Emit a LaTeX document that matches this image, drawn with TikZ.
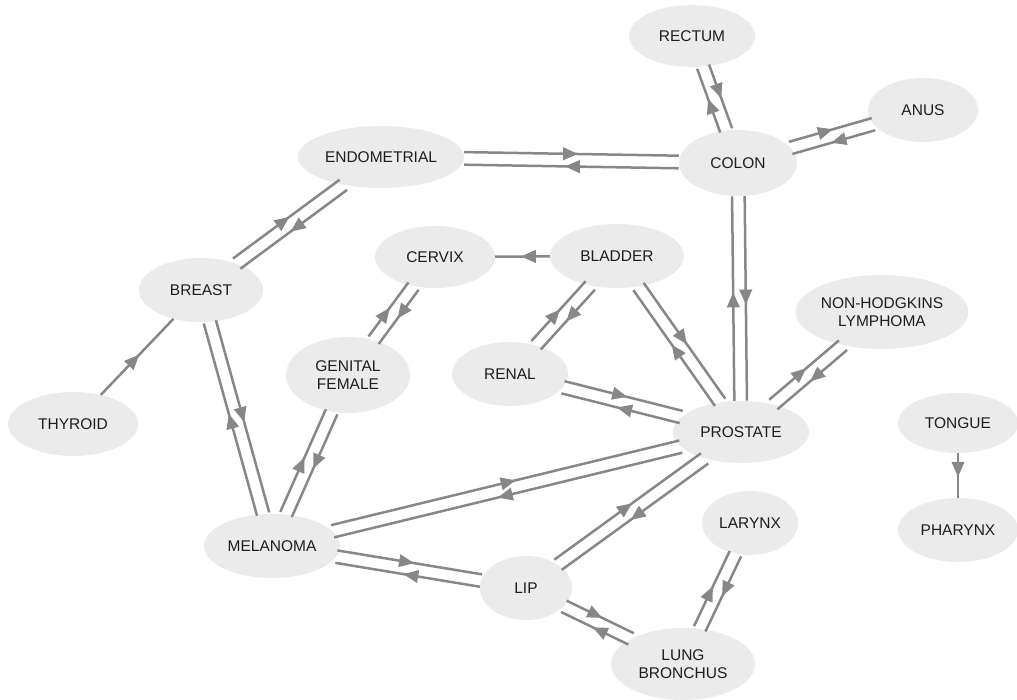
\documentclass[tikz,border=0pt]{standalone}
\usepackage{fontspec}
\setmainfont{Liberation Sans}
\usetikzlibrary{shapes.geometric,arrows.meta,decorations.markings,calc}
\definecolor{nodec}{RGB}{235,235,235}
\definecolor{edgec}{RGB}{135,135,135}
\definecolor{txtc}{RGB}{30,30,30}
\newcommand\offd{6.3pt}
\newcommand\biedge[2]{%
  \path (#1) -- coordinate[pos=0] (s) coordinate[pos=1] (e) (#2);
  \draw[lnk] ($(s)!\offd!90:(e)$) -- ($(e)!\offd!-90:(s)$);
  \draw[lnk] ($(e)!\offd!90:(s)$) -- ($(s)!\offd!-90:(e)$);
}
\begin{document}
\begin{tikzpicture}[x=1pt,y=-1pt,
  blob/.style={ellipse, fill=nodec, inner sep=0pt, text=txtc, align=center,
    font=\fontsize{15.5}{18.5}\selectfont},
  lnk/.style={draw=edgec, line width=2.5pt, postaction={decorate},
    decoration={markings, mark=at position 0.53 with {\arrow[edgec]{Triangle[length=15pt,width=12.5pt]}}}}]
\useasboundingbox (0,0) rectangle (1017,700);
\node[blob, minimum width=126pt, minimum height=62pt] (rectum) at (692,36) {RECTUM};
\node[blob, minimum width=110pt, minimum height=64pt] (anus) at (923,110) {ANUS};
\node[blob, minimum width=118pt, minimum height=66pt] (colon) at (738,163) {COLON};
\node[blob, minimum width=166pt, minimum height=62pt] (endo) at (381,157) {ENDOMETRIAL};
\node[blob, minimum width=120pt, minimum height=62pt] (cervix) at (435,257) {CERVIX};
\node[blob, minimum width=134pt, minimum height=64pt] (bladder) at (617,256) {BLADDER};
\node[blob, minimum width=124pt, minimum height=64pt] (breast) at (201,290) {BREAST};
\node[blob, minimum width=136pt, minimum height=74pt] (nhl) at (882,312) {NON-HODGKINS\\LYMPHOMA};
\node[blob, minimum width=124pt, minimum height=76pt] (genital) at (348,375) {GENITAL\\FEMALE};
\node[blob, minimum width=116pt, minimum height=64pt] (renal) at (510,374) {RENAL};
\node[blob, minimum width=130pt, minimum height=64pt] (thyroid) at (73,424) {THYROID};
\node[blob, minimum width=136pt, minimum height=62pt] (prostate) at (741,432) {PROSTATE};
\node[blob, minimum width=120pt, minimum height=60pt] (tongue) at (958,423) {TONGUE};
\node[blob, minimum width=120pt, minimum height=64pt] (pharynx) at (958,530) {PHARYNX};
\node[blob, minimum width=136pt, minimum height=64pt] (melanoma) at (272,546) {MELANOMA};
\node[blob, minimum width=92pt, minimum height=64pt] (lip) at (526,588) {LIP};
\node[blob, minimum width=96pt, minimum height=64pt] (larynx) at (750,523) {LARYNX};
\node[blob, minimum width=144pt, minimum height=72pt] (lung) at (683,664) {LUNG\\BRONCHUS};
\biedge{endo}{colon}
\biedge{colon}{rectum}
\biedge{colon}{anus}
\biedge{prostate}{colon}
\biedge{breast}{endo}
\biedge{melanoma}{breast}
\biedge{genital}{cervix}
\biedge{renal}{bladder}
\biedge{prostate}{bladder}
\biedge{renal}{prostate}
\biedge{prostate}{nhl}
\biedge{melanoma}{genital}
\biedge{melanoma}{prostate}
\biedge{melanoma}{lip}
\biedge{lip}{prostate}
\biedge{lip}{lung}
\biedge{lung}{larynx}
\draw[lnk] (thyroid) -- (breast);
\draw[lnk] (bladder) -- (cervix);
\draw[lnk] (tongue) -- (pharynx);
\end{tikzpicture}
\end{document}
